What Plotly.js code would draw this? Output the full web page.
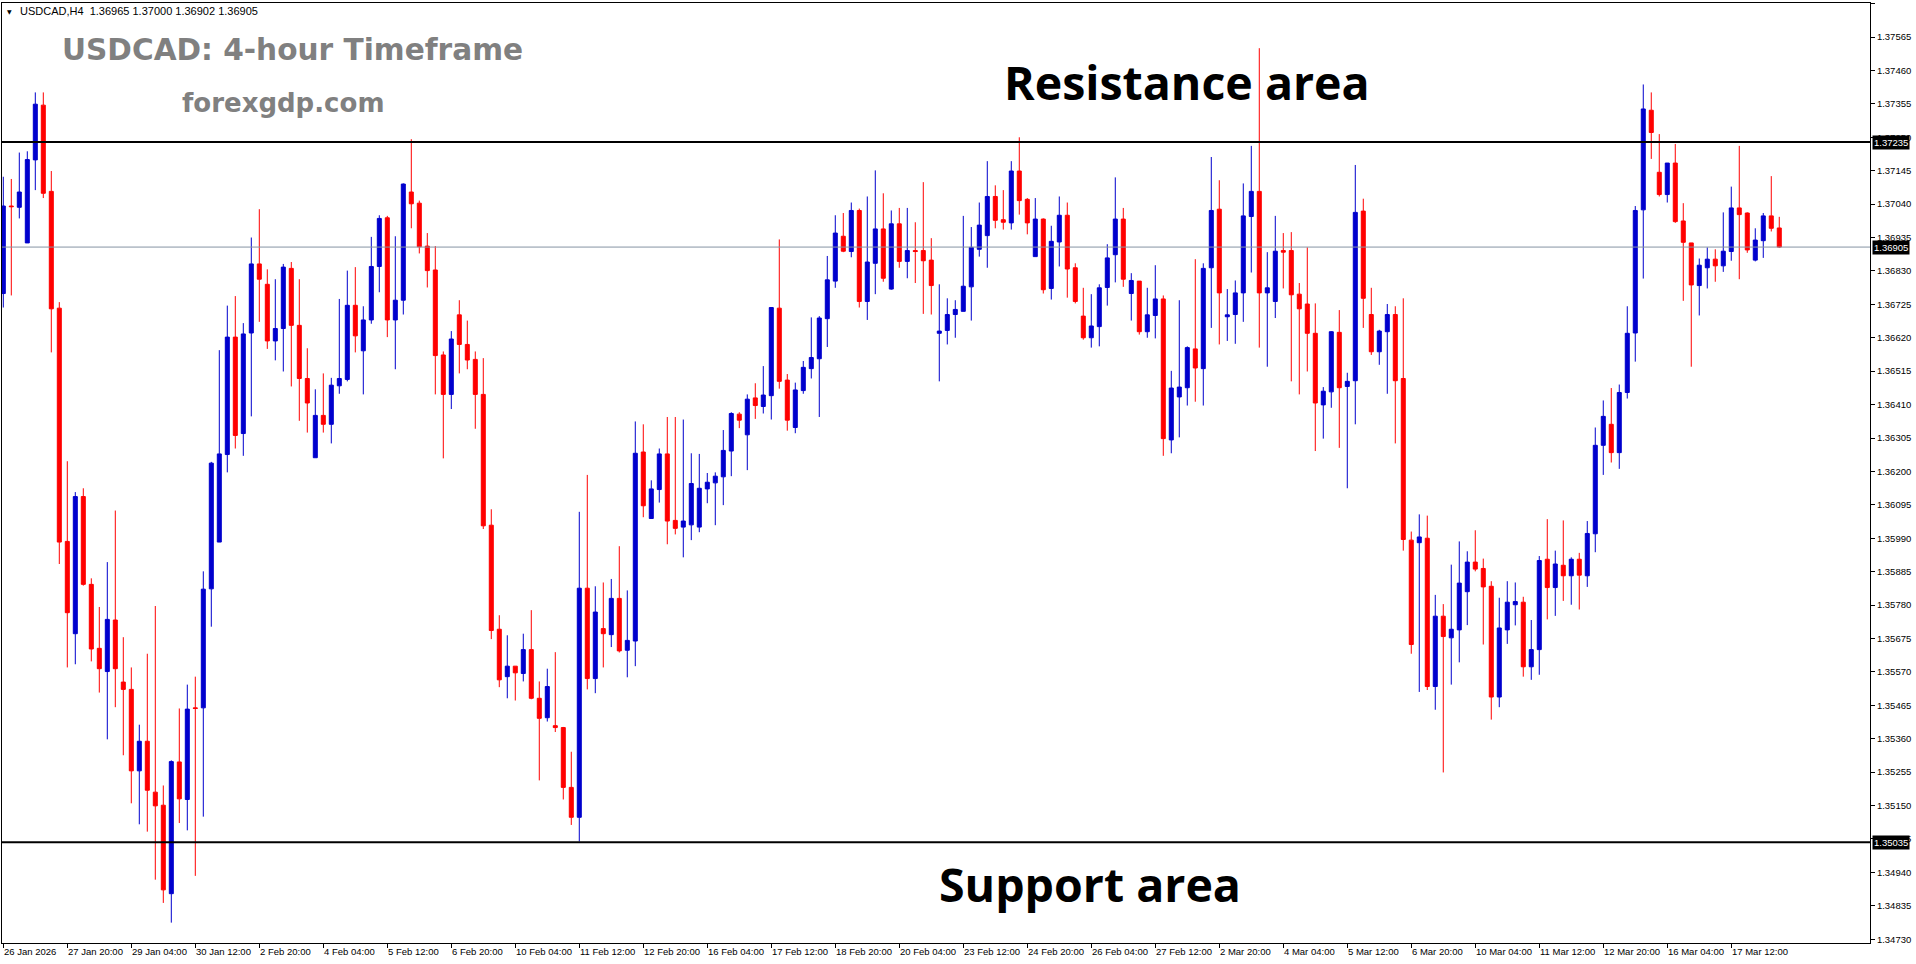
<!DOCTYPE html>
<html>
<head>
<meta charset="utf-8">
<script src="https://cdn.plot.ly/plotly-3.0.1.min.js"></script>
<style>
html,body{margin:0;padding:0;background:#fff;overflow:hidden;}
#chart{width:1916px;height:964px;}
</style>
</head>
<body>
<div id="chart"></div>
<script>
// ---------------- DATA (USDCAD H4) ----------------
const open = [
1.36759,1.37034,1.37030,1.36918,1.37179,1.37351,1.37080,1.36713,1.35980,1.35690,
1.36121,1.35845,1.35644,1.35571,1.35733,1.35538,1.35515,1.35259,1.35352,1.35192,
1.35151,1.34873,1.35287,1.35169,1.35457,1.35457,1.35831,1.35978,1.36253,1.36622,
1.36319,1.36635,1.36852,1.36788,1.36610,1.36649,1.36838,1.36659,1.36492,1.36243,
1.36376,1.36348,1.36469,1.36489,1.36722,1.36579,1.36676,1.36844,1.36997,1.36676,
1.36738,1.37078,1.37043,1.36908,1.36833,1.36566,1.36442,1.36692,1.36599,1.36552,
1.36442,1.36031,1.35704,1.35555,1.35588,1.35565,1.35640,1.35487,1.35426,1.35401,
1.35395,1.35207,1.35113,1.35833,1.35549,1.35706,1.35687,1.35801,1.35638,1.35667,
1.36261,1.36052,1.36143,1.36255,1.36046,1.36025,1.36032,1.36025,1.36145,1.36164,
1.36183,1.36264,1.36380,1.36315,1.36431,1.36404,1.36438,1.36713,1.36487,1.36338,
1.36454,1.36523,1.36554,1.36680,1.36798,1.36939,1.36891,1.37020,1.36734,1.36854,
1.36962,1.36773,1.36978,1.36860,1.36894,1.36894,1.36864,1.36634,1.36643,1.36693,
1.36703,1.36780,1.36898,1.36941,1.37064,1.36991,1.36981,1.37144,1.37055,1.36875,
1.36993,1.36775,1.36921,1.37005,1.36840,1.36688,1.36620,1.36655,1.36778,1.36881,
1.36993,1.36759,1.36798,1.36639,1.36690,1.36742,1.36299,1.36434,1.36463,1.36585,
1.36523,1.36840,1.37024,1.36686,1.36693,1.36761,1.37001,1.37080,1.36761,1.36734,
1.36894,1.36894,1.36757,1.36726,1.36634,1.36409,1.36450,1.36637,1.36467,1.36485,
1.37018,1.36693,1.36576,1.36639,1.36693,1.36492,1.35984,1.35976,1.35990,1.35524,
1.35745,1.35677,1.35702,1.35822,1.35915,1.35895,1.35839,1.35491,1.35702,1.35781,
1.35789,1.35586,1.35640,1.35924,1.35835,1.35905,1.35872,1.35924,1.35872,1.36004,
1.36282,1.36348,1.36259,1.36448,1.36635,1.37022,1.37335,1.37140,1.37070,1.37169,
1.36987,1.36918,1.36784,1.36840,1.36867,1.36846,1.36891,1.37028,1.37012,1.36864,
1.36925,1.37003,1.36965];
const high = [
1.37126,1.37119,1.37202,1.37206,1.37391,1.37391,1.37144,1.36732,1.36232,1.36135,
1.36147,1.35864,1.35774,1.35915,1.36077,1.35679,1.35584,1.35404,1.35627,1.35777,
1.35213,1.35292,1.35455,1.35530,1.35555,1.35886,1.36230,1.36581,1.36721,1.36751,
1.36666,1.36935,1.37024,1.36835,1.36804,1.36852,1.36858,1.36804,1.36587,1.36458,
1.36508,1.36494,1.36742,1.36831,1.36842,1.36719,1.36937,1.37005,1.37003,1.36939,
1.37105,1.37244,1.37051,1.36949,1.36908,1.36577,1.36641,1.36738,1.36674,1.36577,
1.36556,1.36081,1.35748,1.35685,1.35588,1.35690,1.35764,1.35540,1.35580,1.35632,
1.35397,1.35319,1.36073,1.36189,1.35839,1.35851,1.35862,1.35965,1.35826,1.36357,
1.36348,1.36172,1.36272,1.36371,1.36371,1.36363,1.36257,1.36255,1.36195,1.36197,
1.36330,1.36386,1.36386,1.36442,1.36477,1.36531,1.36715,1.36929,1.36506,1.36479,
1.36547,1.36684,1.36688,1.36877,1.37005,1.37012,1.37045,1.37026,1.37064,1.37146,
1.37074,1.37020,1.37028,1.37028,1.36983,1.37109,1.36933,1.36788,1.36744,1.36738,
1.37003,1.36968,1.37045,1.37175,1.37099,1.37084,1.37175,1.37250,1.37059,1.37059,
1.36995,1.36972,1.37064,1.37045,1.36854,1.36777,1.36757,1.36788,1.36914,1.37124,
1.37028,1.36823,1.36798,1.36777,1.36848,1.36753,1.36516,1.36738,1.36593,1.36867,
1.36854,1.37188,1.37115,1.36773,1.36800,1.37105,1.37223,1.37530,1.36889,1.37003,
1.36949,1.36952,1.36792,1.36904,1.36728,1.36465,1.36641,1.36707,1.36510,1.37163,
1.37057,1.36777,1.36645,1.36726,1.36719,1.36744,1.36011,1.36065,1.36061,1.35812,
1.35783,1.35907,1.35980,1.35949,1.36015,1.35926,1.35855,1.35803,1.35855,1.35851,
1.35806,1.35733,1.35934,1.36050,1.35951,1.36046,1.35930,1.35944,1.36044,1.36338,
1.36423,1.36462,1.36473,1.36719,1.37034,1.37416,1.37391,1.37260,1.37169,1.37229,
1.37043,1.36918,1.36869,1.36904,1.36898,1.37014,1.37095,1.37223,1.37014,1.36964,
1.37012,1.37128,1.37000];
const low = [
1.36715,1.36753,1.36995,1.36918,1.37084,1.37059,1.36574,1.35909,1.35584,1.35594,
1.35841,1.35603,1.35505,1.35358,1.35459,1.35308,1.35157,1.35091,1.35068,1.34917,
1.34844,1.34782,1.35095,1.35072,1.34929,1.35115,1.35712,1.35978,1.36197,1.36272,
1.36249,1.36373,1.36670,1.36585,1.36549,1.36514,1.36467,1.36359,1.36322,1.36243,
1.36322,1.36288,1.36444,1.36483,1.36574,1.36442,1.36664,1.36763,1.36622,1.36521,
1.36693,1.36964,1.36885,1.36778,1.36442,1.36241,1.36396,1.36508,1.36521,1.36334,
1.36019,1.35673,1.35522,1.35487,1.35480,1.35540,1.35484,1.35229,1.35414,1.35381,
1.35169,1.35089,1.35037,1.35515,1.35503,1.35584,1.35648,1.35631,1.35553,1.35588,
1.36056,1.36052,1.36102,1.35971,1.36002,1.35930,1.35984,1.36009,1.36100,1.36031,
1.36094,1.36185,1.36336,1.36204,1.36365,1.36382,1.36363,1.36460,1.36328,1.36320,
1.36444,1.36492,1.36371,1.36591,1.36777,1.36889,1.36873,1.36715,1.36676,1.36757,
1.36796,1.36771,1.36840,1.36807,1.36792,1.36695,1.36693,1.36483,1.36599,1.36620,
1.36703,1.36674,1.36875,1.36840,1.36964,1.36960,1.36960,1.37007,1.36945,1.36875,
1.36759,1.36740,1.36844,1.36746,1.36728,1.36614,1.36589,1.36593,1.36721,1.36794,
1.36780,1.36674,1.36630,1.36620,1.36618,1.36249,1.36257,1.36307,1.36407,1.36419,
1.36407,1.36651,1.36599,1.36610,1.36601,1.36670,1.36825,1.36589,1.36529,1.36682,
1.36775,1.36483,1.36442,1.36514,1.36264,1.36303,1.36400,1.36274,1.36147,1.36348,
1.36651,1.36566,1.36535,1.36444,1.36288,1.35951,1.35627,1.35507,1.35513,1.35451,
1.35254,1.35530,1.35600,1.35717,1.35886,1.35656,1.35420,1.35459,1.35658,1.35716,
1.35555,1.35545,1.35561,1.35735,1.35746,1.35793,1.35781,1.35766,1.35837,1.35946,
1.36189,1.36228,1.36208,1.36429,1.36545,1.36806,1.37182,1.37064,1.37045,1.36981,
1.36736,1.36529,1.36690,1.36775,1.36796,1.36827,1.36862,1.36804,1.36887,1.36860,
1.36871,1.36954,1.36902];
const close = [
1.37034,1.37032,1.37078,1.37180,1.37354,1.37074,1.36711,1.35978,1.35756,1.36121,
1.35845,1.35642,1.35580,1.35735,1.35580,1.35515,1.35259,1.35352,1.35198,1.35149,
1.34885,1.35288,1.35171,1.35453,1.35455,1.35830,1.36226,1.36255,1.36622,1.36313,
1.36632,1.36852,1.36804,1.36610,1.36649,1.36842,1.36659,1.36492,1.36415,1.36376,
1.36348,1.36471,1.36492,1.36722,1.36626,1.36676,1.36844,1.36995,1.36676,1.36738,
1.37103,1.37041,1.36906,1.36831,1.36564,1.36442,1.36616,1.36599,1.36550,1.36442,
1.36029,1.35700,1.35545,1.35588,1.35567,1.35640,1.35487,1.35424,1.35524,1.35395,
1.35207,1.35113,1.35833,1.35549,1.35758,1.35690,1.35801,1.35636,1.35669,1.36257,
1.36092,1.36145,1.36255,1.36044,1.36021,1.36044,1.36162,1.36147,1.36166,1.36185,
1.36266,1.36382,1.36361,1.36427,1.36407,1.36440,1.36715,1.36483,1.36361,1.36456,
1.36527,1.36558,1.36682,1.36802,1.36949,1.36892,1.37020,1.36734,1.36858,1.36962,
1.36807,1.36978,1.36860,1.36894,1.36891,1.36862,1.36784,1.36641,1.36693,1.36709,
1.36782,1.36904,1.36974,1.37064,1.36989,1.36983,1.37144,1.37051,1.36981,1.36993,
1.36771,1.36923,1.37005,1.36836,1.36734,1.36620,1.36657,1.36777,1.36871,1.36993,
1.36804,1.36800,1.36639,1.36692,1.36742,1.36303,1.36462,1.36465,1.36589,1.36525,
1.36838,1.37020,1.36761,1.36692,1.36761,1.37003,1.37080,1.36761,1.36777,1.36892,
1.36889,1.36755,1.36711,1.36634,1.36415,1.36452,1.36639,1.36463,1.36483,1.37014,
1.36744,1.36576,1.36641,1.36693,1.36485,1.35986,1.35656,1.35994,1.35524,1.35745,
1.35681,1.35704,1.35849,1.35915,1.35893,1.35837,1.35491,1.35708,1.35789,1.35791,
1.35586,1.35640,1.35920,1.35835,1.35909,1.35872,1.35924,1.35874,1.36005,1.36282,
1.36373,1.36259,1.36448,1.36634,1.37020,1.37339,1.37265,1.37070,1.37169,1.36985,
1.36920,1.36786,1.36848,1.36867,1.36846,1.36892,1.37028,1.37007,1.36896,1.36927,
1.37003,1.36964,1.36905];

const xTickLabels = ["26 Jan 2026","27 Jan 20:00","29 Jan 04:00","30 Jan 12:00","2 Feb 20:00","4 Feb 04:00",
"5 Feb 12:00","6 Feb 20:00","10 Feb 04:00","11 Feb 12:00","12 Feb 20:00","16 Feb 04:00","17 Feb 12:00",
"18 Feb 20:00","20 Feb 04:00","23 Feb 12:00","24 Feb 20:00","26 Feb 04:00","27 Feb 12:00","2 Mar 20:00",
"4 Mar 04:00","5 Mar 12:00","6 Mar 20:00","10 Mar 04:00","11 Mar 12:00","12 Mar 20:00","16 Mar 04:00","17 Mar 12:00"];
const xTickEvery = 8;

const resistanceLevel = 1.37235;
const supportLevel = 1.35035;
const bidLevel = 1.36905;
const headerText = "USDCAD,H4\u00a0\u00a01.36965 1.37000 1.36902 1.36905";

// 4-hour bar times (weekdays only), first bar 26 Jan 2026 12:00
const times = (function(){
  const out = [];
  let t = Date.UTC(2026,0,26,12);
  while(out.length < open.length){
    const d = new Date(t);
    const wd = d.getUTCDay();
    if(wd !== 0 && wd !== 6){
      const p = n => String(n).padStart(2,'0');
      out.push(d.getUTCFullYear()+'-'+p(d.getUTCMonth()+1)+'-'+p(d.getUTCDate())+' '+p(d.getUTCHours())+':00');
    }
    t += 4*3600*1000;
  }
  return out;
})();

// ---------------- LAYOUT ----------------
const W = 1916, H = 964;
const M = {l:2, r:46, t:3, b:21};
const px = X => (X - M.l) / (W - M.l - M.r);
const py = Y => (H - M.b - Y) / (H - M.t - M.b);

const BLUE = '#0000cd', RED = '#ff0000';
const tickFont = {family:'Liberation Sans, Arial, sans-serif', size:9.5, color:'#000'};

const trace = {
  type:'candlestick',
  x: times, open: open, high: high, low: low, close: close,
  increasing:{line:{color:BLUE, width:1}, fillcolor:BLUE},
  decreasing:{line:{color:RED, width:1}, fillcolor:RED},
  whiskerwidth:0,
  hoverinfo:'skip',
  showlegend:false
};

const tickCats = xTickLabels.map((_, k) => times[k*xTickEvery]);

const annotations = [];
xTickLabels.forEach((lab, k) => {
  annotations.push({
    x: times[k*xTickEvery], xref:'x', y:0, yref:'paper',
    xanchor:'left', yanchor:'top', yshift:-2, showarrow:false,
    text: lab, font: tickFont, borderpad:0
  });
});
[[resistanceLevel],[supportLevel],[bidLevel]].forEach(([lvl]) => {
  annotations.push({
    x:1, xref:'paper', y:lvl, yref:'y', xanchor:'left', yanchor:'middle', xshift:2,
    showarrow:false, text: lvl.toFixed(5), bgcolor:'#000',
    font:{family:'Liberation Sans, Arial, sans-serif', size:9.5, color:'#fff'}, borderpad:1
  });
});
annotations.push({x:px(9), y:py(11), xref:'paper', yref:'paper', xanchor:'center', yanchor:'middle',
  showarrow:false, text:'\u25BC', font:{family:'DejaVu Sans', size:6, color:'#000'}});
annotations.push({x:px(18), y:py(11), xref:'paper', yref:'paper', xanchor:'left', yanchor:'middle',
  showarrow:false, text: headerText, font:{family:'Liberation Sans, Arial, sans-serif', size:11, color:'#000'}});
annotations.push({x:px(292), y:py(50), xref:'paper', yref:'paper', xanchor:'center', yanchor:'middle',
  showarrow:false, text:'USDCAD: 4-hour Timeframe',
  font:{family:'DejaVu Sans', size:29.6, weight:700, color:'#808080'}});
annotations.push({x:px(283), y:py(103), xref:'paper', yref:'paper', xanchor:'center', yanchor:'middle',
  showarrow:false, text:'forexgdp.com',
  font:{family:'DejaVu Sans', size:26, weight:700, color:'#808080'}});
annotations.push({x:px(1187), y:py(82), xref:'paper', yref:'paper', xanchor:'center', yanchor:'middle',
  showarrow:false, text:'Resistance area',
  font:{family:'Open Sans', size:46.5, weight:700, color:'#000'}});
annotations.push({x:px(1090), y:py(884), xref:'paper', yref:'paper', xanchor:'center', yanchor:'middle',
  showarrow:false, text:'Support area',
  font:{family:'Open Sans', size:46.5, weight:700, color:'#000'}});

const shapes = [
  {type:'line', xref:'paper', x0:0, x1:1, yref:'y', y0:bidLevel, y1:bidLevel, line:{color:'#8593a3', width:1}},
  {type:'line', xref:'paper', x0:0, x1:1, yref:'y', y0:resistanceLevel, y1:resistanceLevel, line:{color:'#000', width:2}},
  {type:'line', xref:'paper', x0:0, x1:1, yref:'y', y0:supportLevel, y1:supportLevel, line:{color:'#000', width:2}}
];

const layout = {
  width:W, height:H,
  margin:{l:M.l, r:M.r, t:M.t, b:M.b, pad:0},
  paper_bgcolor:'#fff', plot_bgcolor:'#fff',
  showlegend:false,
  boxgap:0.5, boxgroupgap:0,
  xaxis:{
    type:'category', range:[-0.1625, 233.34], autorange:false,
    showgrid:false, zeroline:false, showline:true, mirror:true, linecolor:'#000', linewidth:1,
    ticks:'outside', ticklen:4, tickcolor:'#000', tickwidth:1,
    tickmode:'array', tickvals: tickCats, showticklabels:false,
    rangeslider:{visible:false}, fixedrange:true
  },
  yaxis:{
    side:'right', range:[1.34718, 1.37672], autorange:false,
    tickmode:'linear', tick0:1.34730, dtick:0.00105, tickformat:'.5f',
    showgrid:false, zeroline:false, showline:true, mirror:true, linecolor:'#000', linewidth:1,
    ticks:'outside', ticklen:4, tickcolor:'#000', tickwidth:1,
    tickfont: tickFont, fixedrange:true
  },
  shapes: shapes,
  annotations: annotations
};

Plotly.newPlot('chart', [trace], layout, {displayModeBar:false, staticPlot:true});
</script>
</body>
</html>
